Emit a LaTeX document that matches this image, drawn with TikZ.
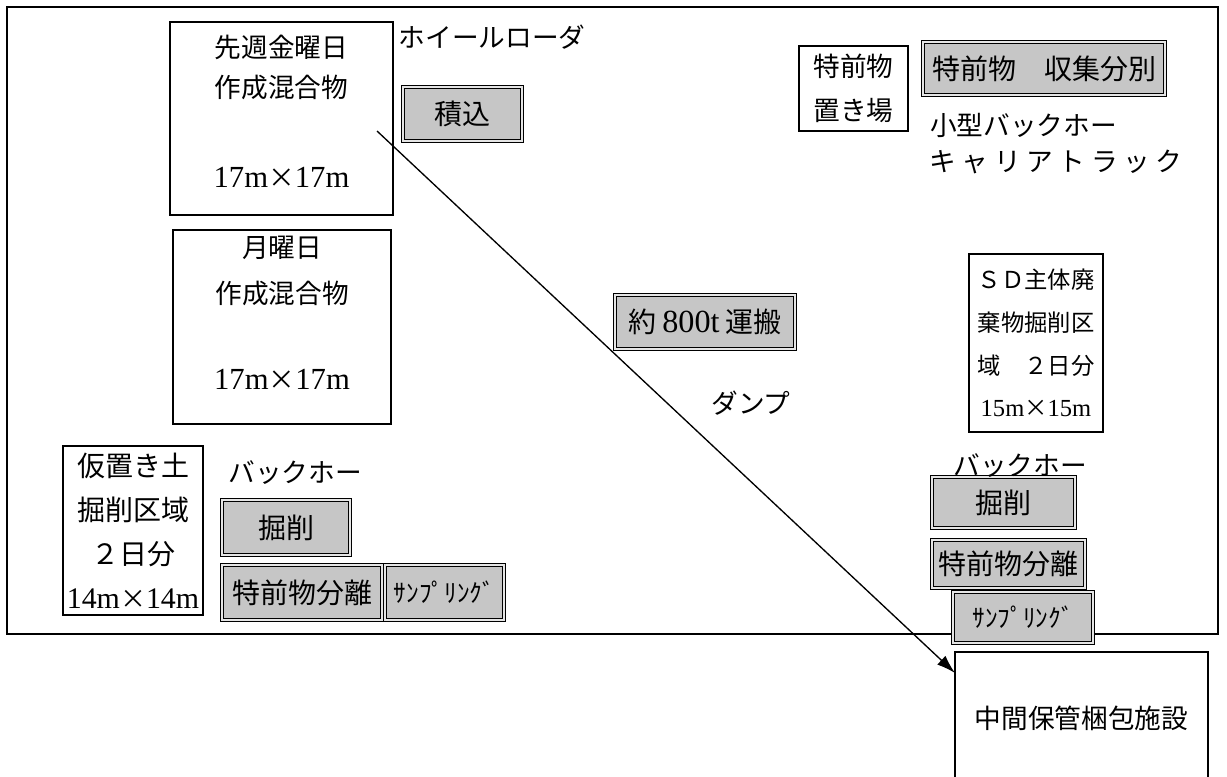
\documentclass[tikz,border=0pt]{standalone}
\usepackage{fontspec}
\setmainfont{Noto Sans CJK JP}
\newfontfamily\lat[Scale=1.15]{Liberation Serif}
\usetikzlibrary{arrows.meta}

\begin{document}
\begin{tikzpicture}[x=0.75pt, y=-0.75pt,
    font=\fontsize{20}{31}\selectfont,
    area/.style={draw, line width=1.2pt, align=center, inner sep=0pt},
    work/.style={draw, line width=0.9pt, double=gray!20, double distance=1.4pt,
        fill=gray!45, align=center, inner sep=0pt, font=\fontsize{21}{25}\selectfont},
    word/.style={inner sep=0pt}]
\useasboundingbox (0,0) rectangle (1227,776);
\clip (0,0) rectangle (1227,776);
\draw[line width=1.2pt] (7,7) rectangle (1218,634);

% mixing yards
\node[area, minimum width=167pt, minimum height=145pt, text depth=11pt,
    font=\fontsize{20}{30}\selectfont] (fri) at (281.5,118.5)
    {先週金曜日\\作成混合物\\[37pt]{\lat 17m}×{\lat 17m}};
\node[area, minimum width=163.5pt, minimum height=145.5pt, text depth=22pt,
    font=\fontsize{20}{35}\selectfont] (mon) at (282,327)
    {月曜日\\作成混合物\\[29pt]{\lat 17m}×{\lat 17m}};
\node[area, minimum width=82pt, minimum height=64pt, font=\fontsize{20}{33}\selectfont] (pile) at (853.5,88.5)
    {特前物\\置き場};
\node[area, minimum width=100.5pt, minimum height=133.5pt, font=\fontsize{17.5}{32}\selectfont] (sd) at (1036,343)
    {ＳＤ主体廃\\棄物掘削区\\域　２日分\\{\fontsize{16}{32}\selectfont\lat 15m}×{\fontsize{16}{32}\selectfont\lat 15m}};
\node[area, minimum width=105pt, minimum height=127pt, font=\fontsize{21}{33}\selectfont] (soil) at (133,530.5)
    {仮置き土\\掘削区域\\２日分\\{\fontsize{19.5}{33}\selectfont{\lat 14m}×{\lat 14m}}};
\node[area, minimum width=190pt, minimum height=103.5pt] (store) at (1081.5,721)
    {\raisebox{6pt}{中間保管梱包施設}};

% work steps
\node[work, minimum width=89pt, minimum height=40.5pt] (load) at (462.5,114) {積込};
\node[work, minimum width=181.5pt, minimum height=40pt] (sort) at (1044,68.5) {特前物　収集分別};
\node[work, minimum width=135pt, minimum height=40.5pt] (haul) at (705,322) {約 {\lat 800t} 運搬};
\node[work, minimum width=96pt, minimum height=41pt] (digL) at (286,527.5) {掘削};
\node[work, minimum width=120pt, minimum height=41pt] (sepL) at (302,592.5) {特前物分離};
\node[work, minimum width=89pt, minimum height=41pt, font=\fontsize{19}{22}\selectfont] (sampL) at (444.5,592.5) {ｻﾝﾌﾟﾘﾝｸﾞ};
\node[work, minimum width=107pt, minimum height=38pt] (digR) at (1003.5,502.5) {掘削};
\node[work, minimum width=115pt, minimum height=36pt] (sepR) at (1008.5,564) {特前物分離};
\node[work, minimum width=105pt, minimum height=38pt, font=\fontsize{19}{22}\selectfont] (sampR) at (1023,617.5) {ｻﾝﾌﾟﾘﾝｸﾞ};

% machines
\node[word] (loader) at (492,37) {ホイールローダ};
\node[word, anchor=west] (mini) at (930,125) {小型バックホー};
\node[word, anchor=west] (carrier) at (929,162)
    {\makebox[190pt][s]{キ\hfil ャ\hfil リ\hfil ア\hfil ト\hfil ラ\hfil ッ\hfil ク}};
\node[word] (hoeL) at (295,473) {バックホー};
\node[word] (hoeR) at (1020,466) {バックホー};
\node[word] (dump) at (751,403) {ダンプ};

\coordinate (src) at (377,131);
\coordinate (tip) at (955,673);
\draw[line width=1pt, -{Latex[length=14pt,width=9pt]}] (src) -- (tip);
\end{tikzpicture}
\end{document}
